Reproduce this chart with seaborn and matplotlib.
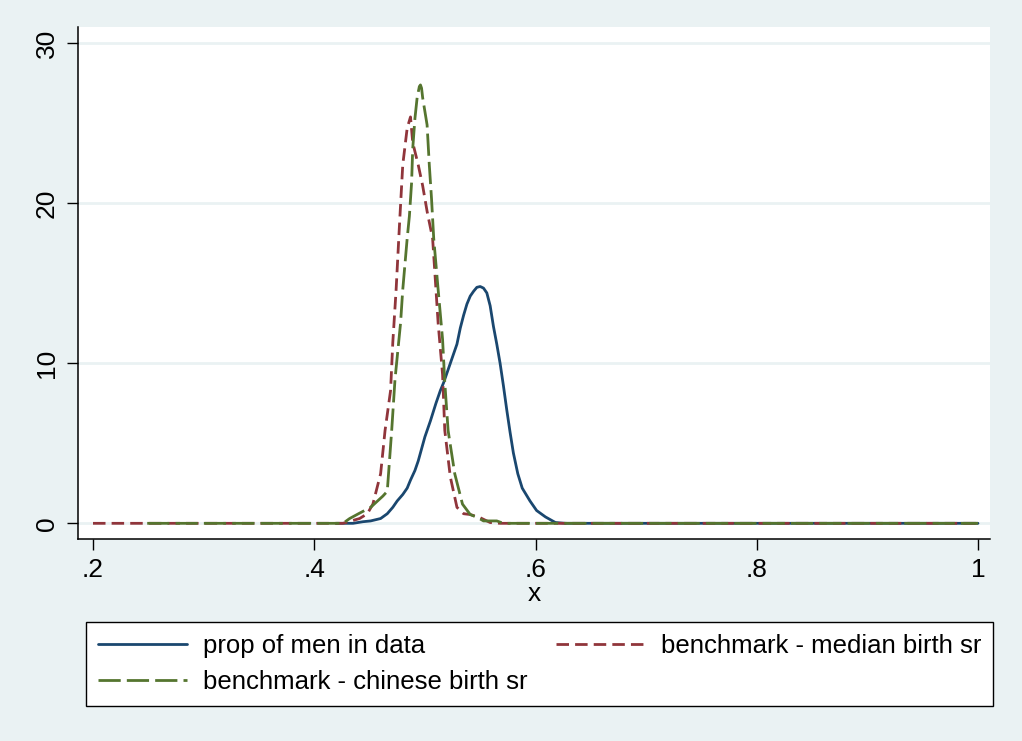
import matplotlib
matplotlib.use("Agg")
import matplotlib.pyplot as plt
import seaborn as sns
import pandas as pd

# density curves
men_x = [0.42, 0.435, 0.444, 0.451, 0.460, 0.466, 0.471, 0.475, 0.480, 0.484, 0.487, 0.491,
         0.494, 0.496, 0.500, 0.505, 0.510, 0.514, 0.517, 0.523, 0.529, 0.532, 0.535,
         0.538, 0.541, 0.544, 0.547, 0.550, 0.553, 0.556, 0.559, 0.562, 0.565, 0.568,
         0.571, 0.574, 0.577, 0.580, 0.584, 0.588, 0.595, 0.601, 0.609, 0.618, 0.627, 1.0]
men_y = [0, 0, 0.1, 0.15, 0.3, 0.6, 1.0, 1.4, 1.8, 2.2, 2.7, 3.3,
         3.9, 4.4, 5.4, 6.4, 7.5, 8.3, 8.8, 10.0, 11.2, 12.2, 13.0,
         13.7, 14.2, 14.5, 14.75, 14.8, 14.7, 14.4, 13.6, 12.3, 11.2, 10.0,
         8.6, 7.1, 5.7, 4.4, 3.1, 2.2, 1.4, 0.8, 0.4, 0.05, 0, 0]

median_x = [0.2, 0.426, 0.441, 0.448, 0.453, 0.460, 0.464, 0.469, 0.471, 0.474, 0.477,
            0.480, 0.484, 0.487, 0.489, 0.494, 0.498, 0.502, 0.507, 0.509, 0.512,
            0.516, 0.518, 0.523, 0.529, 0.535, 0.541, 0.550, 0.559, 0.568, 1.0]
median_y = [0, 0, 0.3, 0.6, 1.2, 3.1, 5.8, 8.3, 11.3, 14.6, 18.6,
            22.4, 24.7, 25.4, 23.8, 22.4, 21.1, 19.5, 17.8, 15.7, 12.5,
            9.3, 5.8, 2.9, 1.0, 0.6, 0.55, 0.35, 0.05, 0, 0]

chinese_x = [0.249, 0.426, 0.432, 0.440, 0.451, 0.462, 0.466, 0.470, 0.473, 0.475, 0.478,
             0.480, 0.484, 0.486, 0.488, 0.489, 0.491, 0.493, 0.495, 0.496, 0.497,
             0.498, 0.502, 0.504, 0.506, 0.508, 0.512, 0.516, 0.518, 0.521, 0.527,
             0.534, 0.541, 0.548, 0.553, 0.565, 0.571, 1.0]
chinese_y = [0, 0, 0.3, 0.6, 1.0, 1.7, 2.0, 5.8, 9.0, 10.4, 12.5,
             14.6, 17.8, 19.2, 21.3, 23.4, 25.3, 26.6, 27.3, 27.4, 27.2,
             26.6, 24.9, 22.4, 20.3, 17.8, 14.6, 11.5, 8.8, 5.8, 3.1,
             1.2, 0.55, 0.35, 0.15, 0.15, 0, 0]

labels = ["prop of men in data", "benchmark - median birth sr", "benchmark - chinese birth sr"]
xticks = [0.2, 0.4, 0.6, 0.8, 1.0]
xtick_labels = [".2", ".4", ".6", ".8", "1"]
yticks = [0, 10, 20, 30]

bg = "#EAF2F3"
navy = "#1A476F"
maroon = "#90353B"
green = "#55752F"

sns.set_style("white")
plt.rcParams["font.family"] = ["Liberation Sans", "DejaVu Sans"]

fig = plt.figure(figsize=(10.22, 7.41), dpi=100, facecolor=bg)
ax = fig.add_axes([78 / 1022, 1 - 539 / 741, 912 / 1022, 512 / 741])
ax.set_facecolor("white")

for y in yticks:
    ax.axhline(y, color=bg, lw=2, zorder=0)

men = pd.DataFrame({"x": men_x, "y": men_y})
med = pd.DataFrame({"x": median_x, "y": median_y})
chi = pd.DataFrame({"x": chinese_x, "y": chinese_y})

sns.lineplot(data=men, x="x", y="y", ax=ax, color=navy, lw=2.0, label=labels[0], zorder=3)
sns.lineplot(data=med, x="x", y="y", ax=ax, color=maroon, lw=2.0, label=labels[1],
             linestyle=(0, (4.5, 2.2)), dash_capstyle="butt", zorder=4)
sns.lineplot(data=chi, x="x", y="y", ax=ax, color=green, lw=2.0, label=labels[2],
             linestyle=(0, (8, 2.2)), dash_capstyle="butt", zorder=5)

ax.set_xlim(0.2 - 15 / 1106, 1 + 12 / 1106)
ax.set_ylim(-0.98, 31.02)

ax.set_xticks(xticks)
ax.set_xticklabels(xtick_labels)
ax.set_yticks(yticks)
ax.set_yticklabels([str(v) for v in yticks], rotation=90, va="center")
ax.tick_params(axis="both", direction="out", length=8, width=1, color="black",
               labelsize=19, labelcolor="black", pad=6, left=True, bottom=True)
ax.set_xlabel("x", fontsize=19, labelpad=0, color="black")
ax.set_ylabel("")

for side in ["top", "right"]:
    ax.spines[side].set_visible(False)
for side in ["left", "bottom"]:
    ax.spines[side].set_color("black")
    ax.spines[side].set_linewidth(1.1)

ax.get_legend().remove()
handles, lbls = ax.get_legend_handles_labels()
# legend fills column by column, so reorder to get men | median on row one
order = [0, 2, 1]
leg = fig.legend([handles[i] for i in order], [lbls[i] for i in order],
                 loc="upper left", ncol=2, mode="expand",
                 bbox_to_anchor=(86 / 1022, 1 - 706 / 741, 907 / 1022, 84 / 741),
                 fontsize=18.5, handlelength=3.5, handletextpad=0.6, borderpad=0.45,
                 labelspacing=0.5, frameon=True, fancybox=False, framealpha=1,
                 borderaxespad=0)
leg.get_frame().set_edgecolor("black")
leg.get_frame().set_linewidth(1)
leg.get_frame().set_facecolor("white")
for t in leg.get_texts():
    t.set_color("black")

fig.savefig("out.png", dpi=100, facecolor=bg)
